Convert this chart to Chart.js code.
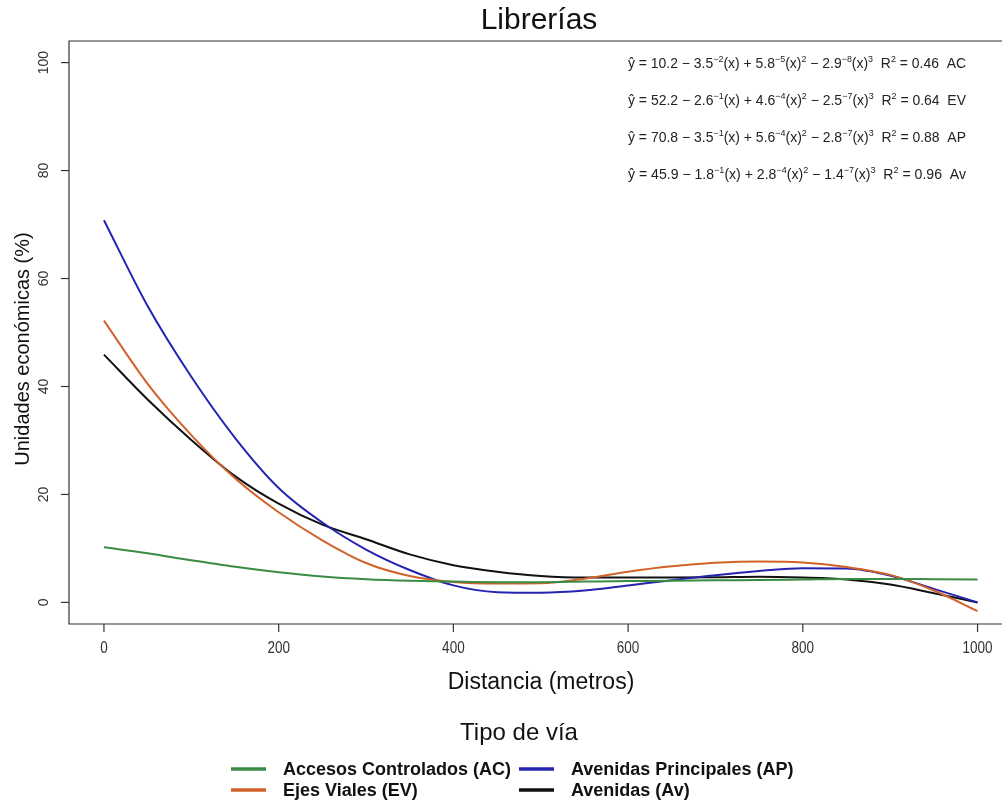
<!DOCTYPE html>
<html lang="es">
<head>
  <meta charset="UTF-8" />
  <title>Librerías</title>
  <style>
    body { margin: 0; background: #fff; overflow: hidden; }
    canvas { display: block; }
  </style>
</head>
<body>
  <canvas id="chart" width="1002" height="801"></canvas>

  <script src="https://cdn.jsdelivr.net/npm/chart.js"></script>
  <script>
    // distance from the road (m) and fitted share of economic units (%)
    const distances = [0, 50, 100, 150, 200, 250, 300, 350, 400, 450, 500,
                       550, 600, 650, 700, 750, 800, 850, 900, 950, 1000];
    const accesosControlados = [10.2, 9.1, 7.8, 6.6, 5.6, 4.8, 4.3, 4.0, 3.85, 3.75, 3.75,
                                3.85, 3.95, 4.0, 4.1, 4.15, 4.25, 4.35, 4.35, 4.3, 4.25];
    const ejesViales = [52.2, 40.5, 31.0, 23.0, 16.7, 11.5, 7.3, 4.9, 3.8, 3.5, 3.55,
                        4.4, 5.7, 6.7, 7.35, 7.6, 7.4, 6.55, 5.1, 2.2, -1.6];
    const avenidasPrincipales = [70.8, 54.9, 41.8, 30.5, 21.2, 14.8, 9.8, 6.0, 3.15, 1.9, 1.8,
                                 2.2, 3.15, 4.1, 5.05, 5.8, 6.35, 6.3, 5.0, 2.5, 0.0];
    const avenidas = [45.9, 37.6, 30.1, 23.4, 18.3, 14.4, 11.7, 8.9, 6.9, 5.7, 4.9,
                      4.6, 4.6, 4.6, 4.65, 4.75, 4.6, 4.25, 3.3, 1.7, 0.0];

    const xTicks = [0, 200, 400, 600, 800, 1000];
    const yTicks = [0, 20, 40, 60, 80, 100];

    // cubic fit labels, one row per road type
    const eqB0 = ['10.2', '52.2', '70.8', '45.9'];
    const eqB1 = ['3.5', '2.6', '3.5', '1.8'];
    const eqE1 = ['−2', '−1', '−1', '−1'];
    const eqB2 = ['5.8', '4.6', '5.6', '2.8'];
    const eqE2 = ['−5', '−4', '−4', '−4'];
    const eqB3 = ['2.9', '2.5', '2.8', '1.4'];
    const eqE3 = ['−8', '−7', '−7', '−7'];
    const rSquared = ['0.46', '0.64', '0.88', '0.96'];
    const shortNames = ['AC', 'EV', 'AP', 'Av'];

    const FONT = '"Liberation Sans", Arial, sans-serif';

    function eqParts(i) {
      return [
        ['ŷ = ' + eqB0[i] + ' − ' + eqB1[i], false], [eqE1[i], true],
        ['(x) + ' + eqB2[i], false], [eqE2[i], true],
        ['(x)', false], ['2', true],
        [' − ' + eqB3[i], false], [eqE3[i], true],
        ['(x)', false], ['3', true],
        ['  R', false], ['2', true],
        [' = ' + rSquared[i] + '  ' + shortNames[i], false]
      ];
    }

    function drawEquation(ctx, x0, y, targetWidth, parts) {
      const base = '14px ' + FONT, sup = '9px ' + FONT;
      let total = 0;
      parts.forEach(([t, s]) => { ctx.font = s ? sup : base; total += ctx.measureText(t).width; });
      ctx.save();
      ctx.translate(x0, y);
      ctx.scale(targetWidth / total, 1);
      ctx.textAlign = 'left';
      ctx.textBaseline = 'alphabetic';
      let x = 0;
      parts.forEach(([t, s]) => {
        ctx.font = s ? sup : base;
        ctx.fillText(t, x, s ? -6 : 0);
        x += ctx.measureText(t).width;
      });
      ctx.restore();
    }

    // R style frame, ticks, titles and legend
    const rDecorations = {
      id: 'rDecorations',
      afterDraw(chart) {
        const { ctx, chartArea: a, scales: { x, y } } = chart;
        ctx.save();
        ctx.strokeStyle = '#333';
        ctx.lineWidth = 1.2;
        ctx.beginPath();
        ctx.moveTo(a.right, a.top); ctx.lineTo(a.left, a.top);
        ctx.lineTo(a.left, a.bottom); ctx.lineTo(a.right, a.bottom);
        ctx.stroke();

        ctx.fillStyle = '#333';
        ctx.font = '15px ' + FONT;
        ctx.textAlign = 'center';
        ctx.textBaseline = 'middle';
        xTicks.forEach(v => {
          const px = x.getPixelForValue(v);
          ctx.beginPath(); ctx.moveTo(px, a.bottom); ctx.lineTo(px, a.bottom + 8); ctx.stroke();
          ctx.save();
          ctx.translate(px, 648);
          ctx.scale(0.9, 1.1);
          ctx.fillText(String(v), 0, 0);
          ctx.restore();
        });
        ctx.font = '14px ' + FONT;
        yTicks.forEach(v => {
          const py = y.getPixelForValue(v);
          ctx.beginPath(); ctx.moveTo(a.left, py); ctx.lineTo(a.left - 8, py); ctx.stroke();
          ctx.save();
          ctx.translate(44, py);
          ctx.rotate(-Math.PI / 2);
          ctx.fillText(String(v), 0, 0);
          ctx.restore();
        });

        ctx.fillStyle = '#111';
        ctx.font = '30px ' + FONT;
        ctx.fillText('Librerías', 539, 21);
        ctx.font = '23px ' + FONT;
        ctx.fillText('Distancia (metros)', 541, 683);
        ctx.save();
        ctx.translate(23, 349);
        ctx.rotate(-Math.PI / 2);
        ctx.font = '20px ' + FONT;
        ctx.fillText('Unidades económicas (%)', 0, 0);
        ctx.restore();

        // fitted equations
        ctx.fillStyle = '#222';
        [68, 105, 142, 179].forEach((ey, i) => drawEquation(ctx, 628, ey, 338, eqParts(i)));

        // legend, filled column by column
        ctx.fillStyle = '#111';
        ctx.font = '24px ' + FONT;
        ctx.textAlign = 'center';
        ctx.fillText('Tipo de vía', 519, 733);
        const cols = [231, 519], rows = [769, 790];
        ctx.font = 'bold 18px ' + FONT;
        ctx.textAlign = 'left';
        chart.data.datasets.forEach((ds, i) => {
          const cx = cols[Math.floor(i / 2)], cy = rows[i % 2];
          ctx.strokeStyle = ds.borderColor;
          ctx.lineWidth = 3.5;
          ctx.beginPath(); ctx.moveTo(cx, cy); ctx.lineTo(cx + 35, cy); ctx.stroke();
          ctx.fillText(ds.label, cx + 52, cy + 1);
        });
        ctx.restore();
      }
    };

    const series = (label, data, color) => ({
      label,
      data: distances.map((d, i) => ({ x: d, y: data[i] })),
      borderColor: color,
      borderWidth: 2,
      pointRadius: 0,
      cubicInterpolationMode: 'monotone',
      fill: false
    });

    new Chart(document.getElementById('chart'), {
      type: 'line',
      data: {
        datasets: [
          series('Accesos Controlados (AC)', accesosControlados, '#3a8c44'),
          series('Ejes Viales (EV)', ejesViales, '#d2622a'),
          series('Avenidas Principales (AP)', avenidasPrincipales, '#2424b0'),
          series('Avenidas (Av)', avenidas, '#111111')
        ]
      },
      options: {
        responsive: false,
        devicePixelRatio: 1,
        animation: false,
        layout: { padding: { left: 69, top: 41, right: 0, bottom: 177 } },
        scales: {
          x: { type: 'linear', min: -40, max: 1028, display: false },
          y: { min: -4, max: 104, display: false }
        },
        plugins: { legend: { display: false }, tooltip: { enabled: false } }
      },
      plugins: [rDecorations]
    });
  </script>
</body>
</html>
